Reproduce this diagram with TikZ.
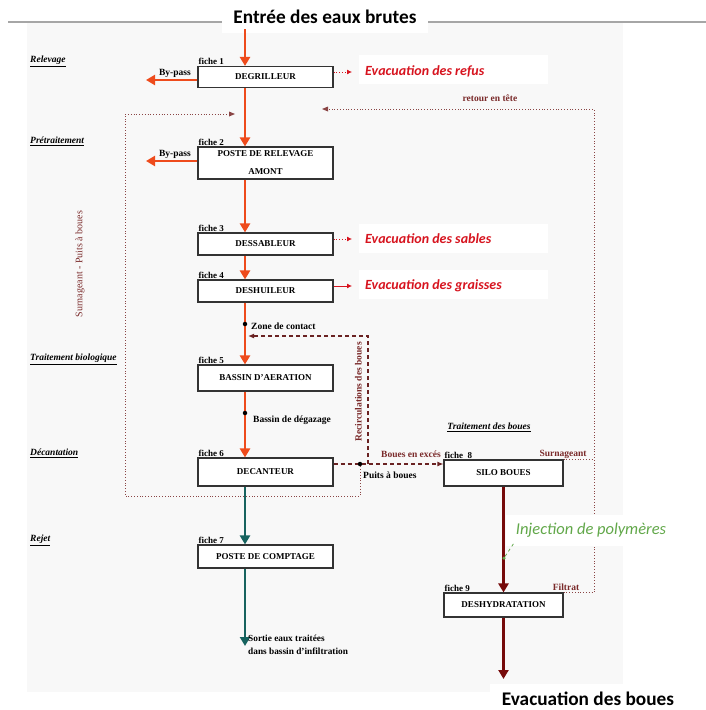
\documentclass[tikz,border=0pt]{standalone}
\usepackage{fontspec}
\setmainfont{Liberation Serif}
\newfontfamily\calib{Carlito}
\usetikzlibrary{arrows.meta,calc}
\definecolor{flowor}{HTML}{EE4B1C}
\definecolor{flowteal}{HTML}{17635F}
\definecolor{flowdr}{HTML}{760A0A}
\definecolor{loopc}{HTML}{8A4545}
\definecolor{recc}{HTML}{6A2222}
\definecolor{evred}{HTML}{D7141F}
\definecolor{injgreen}{HTML}{62A84A}
\definecolor{panel}{HTML}{F8F8F8}
\definecolor{labdr}{HTML}{7A2A2A}
\tikzset{
  box/.style={draw=black!80, line width=1.1pt, fill=white, minimum width=135pt, inner sep=0pt, font=\bfseries\fontsize{9}{10}\selectfont},
  sbox/.style={box, minimum width=119pt},
  fiche/.style={anchor=south west, inner sep=1pt, font=\bfseries\fontsize{9}{10}\selectfont},
  small/.style={inner sep=1pt, font=\bfseries\fontsize{9.5}{11}\selectfont},
  sect/.style={anchor=west, inner sep=0pt, font=\bfseries\itshape\fontsize{9.5}{11}\selectfont},
  orflow/.style={draw=flowor, line width=2.6pt, -{Triangle[width=10pt,length=9pt]}},
  tealflow/.style={draw=flowteal, line width=2.6pt, -{Triangle[width=10pt,length=9pt]}},
  drflow/.style={draw=flowdr, line width=2.6pt, -{Triangle[width=10pt,length=9pt]}},
  evlab/.style={anchor=west, inner sep=0pt, text=evred, font=\calib\bfseries\itshape\fontsize{14}{16}\selectfont},
  evarr/.style={draw=evred, line width=0.8pt, -{Latex[length=5pt,width=5pt]}},
  loopline/.style={draw=loopc, line width=0.8pt, dotted},
  recline/.style={draw=recc, line width=1.2pt, dash pattern=on 4pt off 3pt},
  dot/.style={circle, fill=black, inner sep=0pt, minimum size=4.5pt},
}
\begin{document}
\begin{tikzpicture}[x=1pt,y=-1pt]
\useasboundingbox (0,0) rectangle (706,710);
\fill[white] (0,0) rectangle (706,710);
\fill[panel] (27,22) rectangle (623,692);
\draw[black!35, line width=1.4pt] (8,22) -- (706,22);
% white patches behind big labels
\fill[white] (222,0) rectangle (428,33);
\fill[white] (359,55) rectangle (548,84);
\fill[white] (359,224) rectangle (548,253);
\fill[white] (359,270) rectangle (548,299);
\fill[white] (490,684) rectangle (706,710);

% title and axis
\node[inner sep=0pt, font=\calib\bfseries\fontsize{19.3}{22}\selectfont] (title) at (325,17) {Entrée des eaux brutes};
\coordinate (ax) at (245,29);

% boxes
\node[box, minimum height=21pt] (b1) at (265.5,77) {DEGRILLEUR};
\node[box, minimum height=32pt, align=center, font=\bfseries\fontsize{9}{18}\selectfont] (b2) at (265.5,163) {POSTE DE RELEVAGE\\AMONT};
\node[box, minimum height=22pt] (b3) at (265.5,244) {DESSABLEUR};
\node[box, minimum height=22pt] (b4) at (265.5,291) {DESHUILEUR};
\node[box, minimum height=26pt] (b5) at (265.5,378) {BASSIN D'AERATION};
\node[box, minimum height=28pt] (b6) at (265.5,472) {DECANTEUR};
\node[box, minimum height=23pt] (b7) at (265.5,556.5) {POSTE DE COMPTAGE};
\node[sbox, minimum height=26pt] (b8) at (503.5,473) {SILO BOUES};
\node[sbox, minimum height=24pt] (b9) at (503.5,605) {DESHYDRATATION};

% fiche labels
\node[fiche] (f1) at (b1.north west) {fiche 1};
\node[fiche] (f2) at (b2.north west) {fiche 2};
\node[fiche] (f3) at (b3.north west) {fiche 3};
\node[fiche] (f4) at (b4.north west) {fiche 4};
\node[fiche] (f5) at (b5.north west) {fiche 5};
\node[fiche] (f6) at (b6.north west) {fiche 6};
\node[fiche] (f7) at (b7.north west) {fiche 7};
\node[fiche] (f8) at (b8.north west) {fiche\ \ 8};
\node[fiche] (f9) at (b9.north west) {fiche 9};

% section labels
\node[sect] (s1) at (30,61) {\underline{Relevage}};
\node[sect] (s2) at (30,141) {\underline{Prétraitement}};
\node[sect] (s3) at (30,359) {\underline{Traitement biologique}};
\node[sect] (s4) at (30,453) {\underline{Décantation}};
\node[sect] (s5) at (30,540) {\underline{Rejet}};
\node[sect, anchor=center] (s6) at (489,427) {\underline{Traitement des boues}};

% main orange flow
\draw[orflow] (ax) -- (ax |- b1.north);
\draw[orflow] (b1.south -| ax) -- (b2.north -| ax);
\draw[orflow] (b2.south -| ax) -- (b3.north -| ax);
\draw[orflow] (b3.south -| ax) -- (b4.north -| ax);
\draw[orflow] (b4.south -| ax) -- (b5.north -| ax);
\draw[orflow] (b5.south -| ax) -- (b6.north -| ax);

% by-pass
\coordinate (bp1) at (146,80);
\coordinate (bp2) at (146,161);
\draw[orflow] (b1.west |- bp1) -- (bp1);
\draw[orflow] (b2.west |- bp2) -- (bp2);
\node[small, anchor=south east] (bpl1) at (192,79) {By-pass};
\node[small, anchor=south east] (bpl2) at (192,160) {By-pass};

% teal flow
\coordinate (out) at (245,646);
\draw[tealflow] (b6.south -| ax) -- (b7.north -| ax);
\draw[tealflow] (b7.south -| ax) -- (out);
\node[small, anchor=west, align=left, font=\bfseries\fontsize{9.3}{13}\selectfont] (sortie) at (247,645) {Sortie eaux traitées\\dans bassin d'infiltration};

% dots on main line
\node[dot] (zc) at (245,324) {};
\node[small, anchor=west] (zcl) at (250,326) {Zone de contact};
\node[dot] (bd) at (245,413) {};
\node[small, anchor=west] (bdl) at (252,420) {Bassin de dégazage};

% evacuation arrows
\coordinate (e1) at (352,72);
\coordinate (e3) at (352,239);
\coordinate (e4) at (352,286);
\draw[evarr, dotted] (b1.east |- e1) -- (e1);
\draw[evarr, dotted] (b3.east |- e3) -- (e3);
\draw[evarr] (b4.east |- e4) -- (e4);
\node[evlab] (ev1) at (365,71) {Evacuation des refus};
\node[evlab] (ev3) at (365,239) {Evacuation des sables};
\node[evlab] (ev4) at (365,286) {Evacuation des graisses};

% decanteur -> silo, recirculation
\node[dot, fill=black] (pb) at (360,464) {};
\draw[recline, -{Latex[length=6pt,width=5pt]}] (b6.east |- pb) -- (pb) -- (pb -| b8.west);
\coordinate (rr) at (368,336);
\coordinate (ri) at (248,336);
\draw[recline, -{Latex[length=6pt,width=5pt]}] (rr |- pb) -- (rr) -- (ri);
\node[small, rotate=90, text=labdr] (recl) at (358.5,392) {Recirculations des boues};
\node[small, anchor=east, text=labdr] (bex) at (442,454) {Boues en excés};
\node[small, anchor=west] (pbl) at (362,475) {Puits à boues};

% left dotted loop (surnageant - puits a boues)
\coordinate (sl) at (125,496);
\coordinate (st) at (233,114);
\draw[loopline] (pb) |- (sl) |- (st);
\fill[loopc] (st) ++(2,0) -- ++(-6,-2.5) -- ++(0,5) -- cycle;
\node[small, rotate=90, text=labdr, font=\fontsize{10}{11}\selectfont] (surl) at (80,264) {Surnageant - Puits à boues};

% right dotted loop (retour en tete)
\coordinate (rc) at (594,109);
\coordinate (rt) at (324,109);
\draw[loopline] (b9.north east) -| (rc) -- (rt);
\draw[loopline] (b8.north east) -- (b8.north east -| rc);
\fill[loopc] (rt) ++(-2,0) -- ++(6,-2.5) -- ++(0,5) -- cycle;
\node[small, text=labdr] (ret) at (490,98) {retour en tête};
\node[small, text=labdr] (surn) at (563,454) {Surnageant};
\node[small, text=labdr] (filt) at (566,587) {Filtrat};

% sludge flow
\coordinate (evb) at (502,679);
\draw[drflow] (b8.south -| b9.north) -- (b9.north);
\draw[drflow] (b9.south) -- (b9.south |- evb);

% polymer injection
\fill[white] (506,515) rectangle (682,546);
\node[inner sep=0pt, text=injgreen, font=\calib\itshape\fontsize{16.5}{18}\selectfont] (inj) at (591,530) {Injection de polymères};
\node[circle, fill=injgreen, inner sep=0pt, minimum size=3.5pt] (injd) at (504,558) {};
\coordinate (injt) at (514,543);
\draw[injgreen, line width=0.8pt, dashed] (injd) -- (injt);

\node[inner sep=0pt, font=\calib\bfseries\fontsize{19.3}{22}\selectfont] (evbl) at (588,699) {Evacuation des boues};
\end{tikzpicture}
\end{document}
